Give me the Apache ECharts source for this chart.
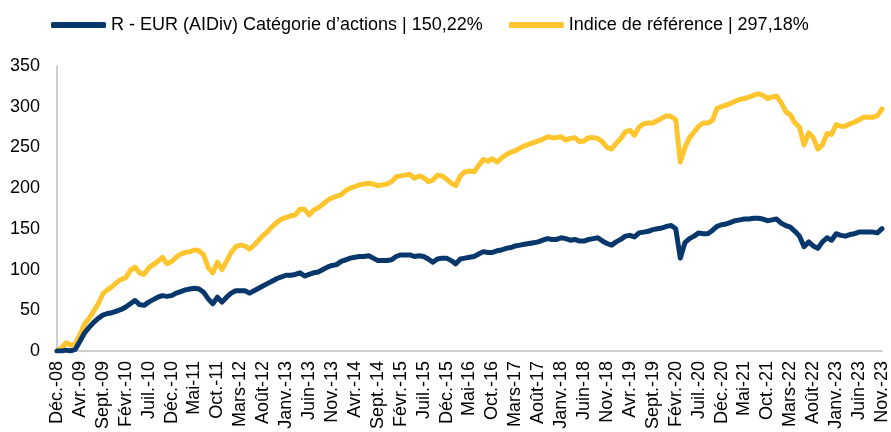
<!DOCTYPE html>
<html>
<head>
<meta charset="utf-8">
<script src="https://cdn.jsdelivr.net/npm/echarts@6/dist/echarts.min.js"></script>
<style>
  html, body { margin: 0; padding: 0; background: #fff; }
  #chart { width: 891px; height: 432px; }
</style>
</head>
<body>
<div id="chart"></div>
<script>
// mois (fin de mois) de nov. 2008 a nov. 2023
var monthNames = ['Janv.', 'Févr.', 'Mars', 'Avr.', 'Mai', 'Juin', 'Juil.', 'Août', 'Sept.', 'Oct.', 'Nov.', 'Déc.'];
var categories = [];
for (var k = 0; k <= 180; k++) {
  var m = (10 + k) % 12, y = 8 + Math.floor((10 + k) / 12);
  categories.push(monthNames[m] + '-' + (y < 10 ? '0' + y : y));
}

var tickLabels = ['Déc.-08', 'Avr.-09', 'Sept.-09', 'Févr.-10', 'Juil.-10', 'Déc.-10', 'Mai-11', 'Oct.-11',
  'Mars-12', 'Août-12', 'Janv.-13', 'Juin-13', 'Nov.-13', 'Avr.-14', 'Sept.-14', 'Févr.-15', 'Juil.-15',
  'Déc.-15', 'Mai-16', 'Oct.-16', 'Mars-17', 'Août-17', 'Janv.-18', 'Juin-18', 'Nov.-18', 'Avr.-19',
  'Sept.-19', 'Févr.-20', 'Juil.-20', 'Déc.-20', 'Mai-21', 'Oct.-21', 'Mars-22', 'Août-22', 'Janv.-23',
  'Juin-23', 'Nov.-23'];

var fundName = 'R - EUR (AIDiv) Catégorie d’actions | 150,22%';
var indexName = 'Indice de référence | 297,18%';

var fund = [
  0, 0, 1, 0, 2, 12, 22, 29, 35, 40,
  44, 46, 47, 49, 51, 54, 58, 62, 57, 56,
  60, 63, 66, 68, 67, 68, 71, 73, 75, 76,
  77, 76, 72, 64, 58, 66, 60, 66, 71, 74,
  74, 74, 71, 74, 77, 80, 83, 86, 89, 91,
  93, 93, 94, 96, 92, 94, 96, 97, 100, 103,
  105, 106, 110, 112, 114, 115, 116, 116, 117, 114,
  111, 111, 111, 112, 116, 118, 118, 118, 116, 117,
  116, 113, 109, 113, 114, 114, 111, 107, 113, 114,
  115, 116, 119, 122, 121, 121, 123, 124, 126, 127,
  129, 130, 131, 132, 133, 134, 136, 138, 137, 137,
  139, 138, 136, 137, 135, 135, 137, 138, 139, 135,
  132, 130, 134, 137, 141, 142, 140, 145, 146, 147,
  149, 150, 151, 153, 154, 150, 114, 133, 138, 141,
  145, 144, 144, 148, 153, 155, 156, 158, 160, 161,
  162, 162, 163, 163, 162, 160, 161, 162, 157, 154,
  152, 147, 141, 128, 134, 129, 126, 134, 139, 136,
  144, 142, 141, 143, 144, 146, 146, 146, 146, 145,
  150.22
];

var benchmark = [
  0, 4, 10, 7, 9, 20, 33, 40, 49, 58,
  70, 75, 79, 84, 88, 90, 99, 103, 96, 94,
  102, 106, 110, 115, 107, 110, 115, 119, 121, 122,
  124, 123, 118, 102, 96, 109, 100, 110, 121, 128,
  130, 129, 125, 130, 136, 142, 147, 153, 158, 162,
  164, 166, 167, 174, 174, 167, 173, 176, 180, 185,
  188, 190, 192, 197, 200, 202, 204, 205, 206, 205,
  203, 204, 205, 208, 214, 215, 216, 217, 212, 215,
  213, 208, 210, 216, 215, 211, 206, 203, 215, 220,
  221, 220, 228, 235, 233, 236, 232, 237, 241, 244,
  246, 249, 252, 254, 256, 258, 260, 263, 262, 262,
  263, 259, 261, 262, 257, 258, 262, 262, 261, 257,
  250, 248, 255, 261, 269, 271, 265, 275, 279, 280,
  280, 283, 286, 289, 288, 284, 232, 250, 262, 269,
  276, 280, 280, 283, 298, 300, 302, 304, 307, 309,
  310, 312, 314, 316, 314, 310, 312, 313, 305, 294,
  290, 280, 275, 253, 268, 262, 248, 253, 267, 266,
  278, 276, 276, 279, 281, 284, 287, 287, 287, 289,
  297.18
];

var chart = echarts.init(document.getElementById('chart'));
chart.setOption({
  animation: false,
  textStyle: { fontFamily: 'Liberation Sans, Arial, sans-serif' },
  legend: {
    left: 46,
    top: 11,
    itemWidth: 55,
    itemHeight: 6,
    itemGap: 26,
    icon: 'roundRect',
    textStyle: { fontSize: 18, color: '#000' },
    data: [fundName, indexName]
  },
  grid: { left: 57, right: 8, top: 66, bottom: 81, containLabel: false },
  xAxis: {
    type: 'category',
    data: categories,
    boundaryGap: false,
    axisLine: { lineStyle: { color: '#bfbfbf', width: 1.5 } },
    axisTick: { show: false },
    axisLabel: {
      interval: 4,
      rotate: 90,
      margin: 10,
      fontSize: 18,
      color: '#000',
      formatter: function (v, i) { return tickLabels[Math.round(i / 5)]; }
    },
    splitLine: { show: false }
  },
  yAxis: {
    type: 'value',
    min: 0,
    max: 350,
    interval: 50,
    axisLine: { show: true, lineStyle: { color: '#bfbfbf', width: 1.5 } },
    axisTick: { show: false },
    axisLabel: { fontSize: 18, color: '#000', margin: 17 },
    splitLine: { show: false }
  },
  series: [
    {
      name: fundName,
      type: 'line',
      data: fund,
      symbol: 'none',
      color: '#08386b',
      lineStyle: { width: 5, cap: 'round', join: 'round' },
      z: 3
    },
    {
      name: indexName,
      type: 'line',
      data: benchmark,
      symbol: 'none',
      color: '#ffc52f',
      lineStyle: { width: 5, cap: 'round', join: 'round' },
      z: 2
    }
  ]
});
</script>
</body>
</html>
